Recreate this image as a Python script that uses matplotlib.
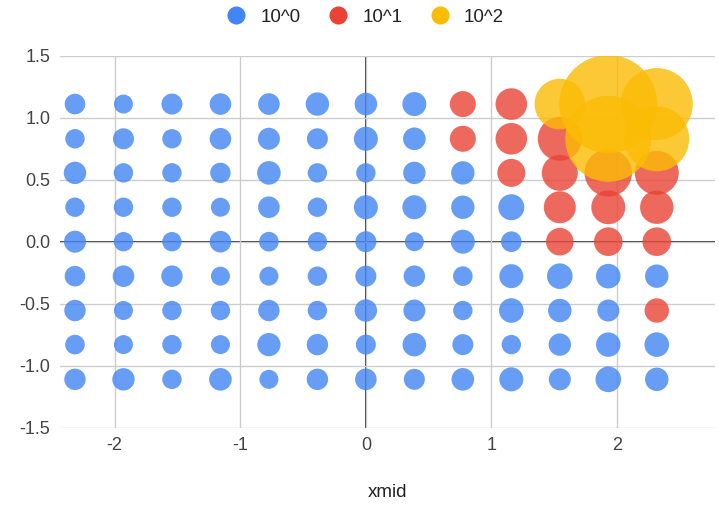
import numpy as np
import matplotlib.pyplot as plt
from matplotlib.lines import Line2D

plt.rcParams['font.family'] = ['Liberation Sans', 'DejaVu Sans']
plt.rcParams['axes.unicode_minus'] = False

# ____data: grid of bubble centres, bubble size and colour group
xmid = [-2.316, -1.930, -1.544, -1.158, -0.772, -0.386, 0.0,
        0.386, 0.772, 1.158, 1.544, 1.930, 2.316]
ymid = [1.11, 0.83, 0.555, 0.278, 0.0, -0.278, -0.555, -0.83, -1.11]

bubble_size = [
    [10.3, 9.5, 10.5, 10.8, 10.8, 11.7, 11.3, 12.0, 13.0, 15.8, 25.3, 49.0, 36.0],
    [9.7, 10.5, 9.7, 10.8, 11.0, 10.5, 12.0, 11.3, 13.0, 15.8, 22.0, 43.0, 32.5],
    [11.2, 9.7, 9.7, 10.2, 11.8, 9.7, 9.7, 11.2, 11.7, 14.0, 18.0, 23.7, 22.0],
    [9.7, 9.7, 9.7, 9.5, 10.8, 9.7, 12.0, 12.0, 11.7, 13.0, 16.0, 17.0, 16.7],
    [11.0, 9.7, 9.7, 10.8, 9.8, 9.7, 10.5, 9.5, 12.0, 10.3, 13.8, 14.3, 14.3],
    [10.3, 10.8, 10.7, 9.5, 9.5, 9.7, 10.5, 10.7, 9.8, 12.0, 12.8, 12.3, 11.7],
    [10.7, 9.5, 9.7, 9.7, 10.7, 9.7, 11.2, 11.0, 9.7, 12.3, 11.7, 11.0, 12.2],
    [9.8, 9.5, 9.7, 9.5, 11.6, 10.7, 10.0, 11.8, 10.5, 9.7, 11.2, 12.2, 12.3],
    [10.7, 11.2, 9.7, 11.3, 9.5, 10.7, 10.8, 10.5, 11.3, 12.0, 11.0, 12.8, 11.7],
]

# 0 -> 10^0, 1 -> 10^1, 2 -> 10^2
group = [
    [0, 0, 0, 0, 0, 0, 0, 0, 1, 1, 2, 2, 2],
    [0, 0, 0, 0, 0, 0, 0, 0, 1, 1, 1, 2, 2],
    [0, 0, 0, 0, 0, 0, 0, 0, 0, 1, 1, 1, 1],
    [0, 0, 0, 0, 0, 0, 0, 0, 0, 0, 1, 1, 1],
    [0, 0, 0, 0, 0, 0, 0, 0, 0, 0, 1, 1, 1],
    [0, 0, 0, 0, 0, 0, 0, 0, 0, 0, 0, 0, 0],
    [0, 0, 0, 0, 0, 0, 0, 0, 0, 0, 0, 0, 1],
    [0, 0, 0, 0, 0, 0, 0, 0, 0, 0, 0, 0, 0],
    [0, 0, 0, 0, 0, 0, 0, 0, 0, 0, 0, 0, 0],
]
group_labels = ["10^0", "10^1", "10^2"]
group_colors = ["#4285F4", "#EA4335", "#FBBC04"]

# ____flatten
X, Y = np.meshgrid(xmid, ymid)
X = X.ravel()
Y = Y.ravel()
S = np.array(bubble_size).ravel()
G = np.array(group).ravel()

# draw big bubbles first, yellow series on top
order = np.lexsort((-S, G))

fig = plt.figure(figsize=(7.19, 5.05), dpi=100)
ax = fig.add_axes([0.0835, 0.1531, 0.9110, 0.7366])

ax.scatter(X[order], Y[order], s=(1.44 * S[order]) ** 2,
           c=[group_colors[g] for g in G[order]], alpha=0.8,
           linewidths=0, zorder=3)

ax.set_xlim(-2.435, 2.78)
ax.set_ylim(-1.5, 1.5)
ax.set_xticks([-2, -1, 0, 1, 2])
ax.set_yticks([-1.5, -1.0, -0.5, 0.0, 0.5, 1.0, 1.5])
ax.set_yticklabels(["-1.5", "-1.0", "-0.5", "0.0", "0.5", "1.0", "1.5"])
ax.grid(True, color="#cccccc", linewidth=1.0, zorder=0)
ax.axhline(0, color="#333333", linewidth=1.4, zorder=1)
ax.axvline(0, color="#333333", linewidth=1.4, zorder=1)
for sp in ax.spines.values():
    sp.set_visible(False)
ax.tick_params(axis="both", length=0, labelsize=13, labelcolor="#444444")
ax.tick_params(axis="x", pad=7)
ax.tick_params(axis="y", pad=7)
ax.set_xlabel("xmid", fontsize=13.5, color="#222222", labelpad=21)

handles = [Line2D([], [], marker="o", linestyle="", markersize=13,
                  markerfacecolor=c, markeredgewidth=0) for c in group_colors]
fig.legend(handles, group_labels, loc="center", bbox_to_anchor=(0.508, 0.966),
           ncol=3, frameon=False, fontsize=13.5, handlelength=1.0,
           handletextpad=0.8, columnspacing=1.5, labelcolor="#222222")

fig.savefig("out.png", dpi=100)
